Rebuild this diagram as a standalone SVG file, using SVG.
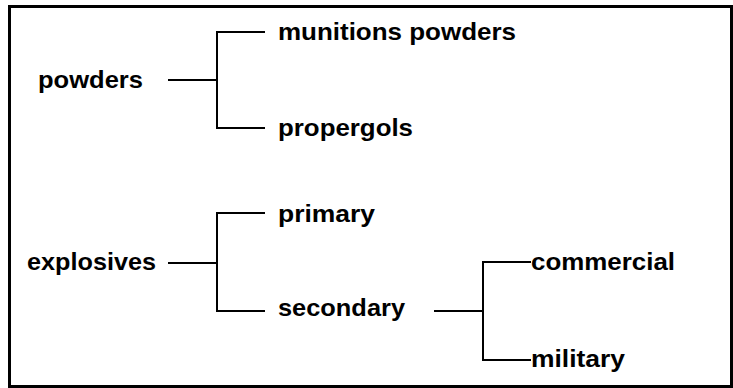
<svg xmlns="http://www.w3.org/2000/svg" width="733" height="388" viewBox="0 0 733 388">
<style>
.t{font-family:"Liberation Sans",Arial,Helvetica,sans-serif;font-weight:bold;font-size:24px;fill:#000}
.c{fill:none;stroke:#000;stroke-width:2}
</style>
<rect x="9.5" y="6.5" width="722" height="380" fill="#fff" stroke="#000" stroke-width="3"/>
<g id="connectors">
<path class="c" d="M168 80H217"/>
<path class="c" d="M265 32H217V128H265"/>
<path class="c" d="M168 263H217"/>
<path class="c" d="M265 213H217V311H265"/>
<path class="c" d="M434 311H483"/>
<path class="c" d="M531 262H483V360H531"/>
</g>
<g id="powders"><text class="t" x="38" y="88" textLength="105" lengthAdjust="spacingAndGlyphs">powders</text></g>
<g id="munitions"><text class="t" x="278" y="40" textLength="238" lengthAdjust="spacingAndGlyphs">munitions powders</text></g>
<g id="propergols"><text class="t" x="278" y="136" textLength="135" lengthAdjust="spacingAndGlyphs">propergols</text></g>
<g id="explosives"><text class="t" x="27" y="270" textLength="129" lengthAdjust="spacingAndGlyphs">explosives</text></g>
<g id="primary"><text class="t" x="278" y="222" textLength="97" lengthAdjust="spacingAndGlyphs">primary</text></g>
<g id="secondary"><text class="t" x="278" y="316" textLength="127" lengthAdjust="spacingAndGlyphs">secondary</text></g>
<g id="commercial"><text class="t" x="531" y="270" textLength="144" lengthAdjust="spacingAndGlyphs">commercial</text></g>
<g id="military"><text class="t" x="531" y="367" textLength="94" lengthAdjust="spacingAndGlyphs">military</text></g>
</svg>
